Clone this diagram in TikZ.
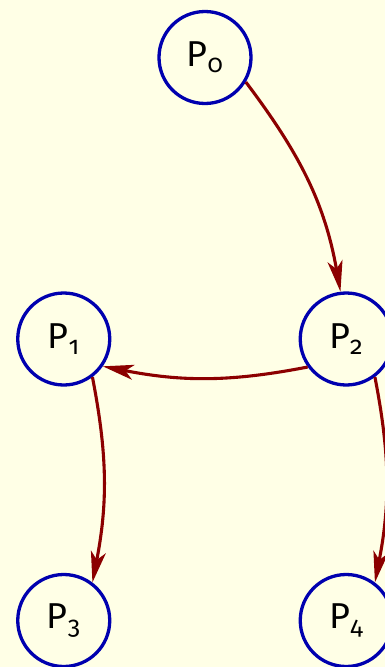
\documentclass[tikz,border=0pt]{standalone}
\usepackage{fontspec}
\newfontfamily\procfont[Numbers=OldStyle]{Fira Sans}
\usepackage{tikz}
\usetikzlibrary{positioning, arrows.meta}

\definecolor{bgyellow}{RGB}{255,255,230}
\definecolor{procblue}{RGB}{0,0,175}
\definecolor{edgered}{RGB}{140,0,0}

\begin{document}
\begin{tikzpicture}[
    x=1pt, y=1pt,
    on grid,
    node distance=281.5pt and 141.25pt,
    proc/.style={draw=procblue, circle, line width=3.3pt, minimum size=92pt,
                 inner sep=0pt, font=\procfont\fontsize{36}{40}\selectfont},
    arr/.style={-{Stealth[length=31pt, width=15pt, inset=8pt]}, line width=3.1pt, color=edgered},
]
% page background
\path[use as bounding box, fill=bgyellow] (-205,57.5) rectangle (180,-609.5);

% Row 1
\node[proc] (p0) {P\textsubscript{0}};

% Row 2
\node[proc, below left=of p0] (p1) {P\textsubscript{1}};
\node[proc, below right=of p0] (p2) {P\textsubscript{2}};

% Row 3
\node[proc, below=of p1] (p3) {P\textsubscript{3}};
\node[proc, below=of p2] (p4) {P\textsubscript{4}};

% edges
\draw[arr] (p0.-31) to[out=-53, in=100] (p2.97);
\draw[arr] (p2.-144) to[out=191, in=-11] (p1.-35);
\draw[arr] (p1.-53) to[out=-79, in=79] (p3.53);
\draw[arr] (p2.-53) to[out=-79, in=79] (p4.53);

\end{tikzpicture}
\end{document}
